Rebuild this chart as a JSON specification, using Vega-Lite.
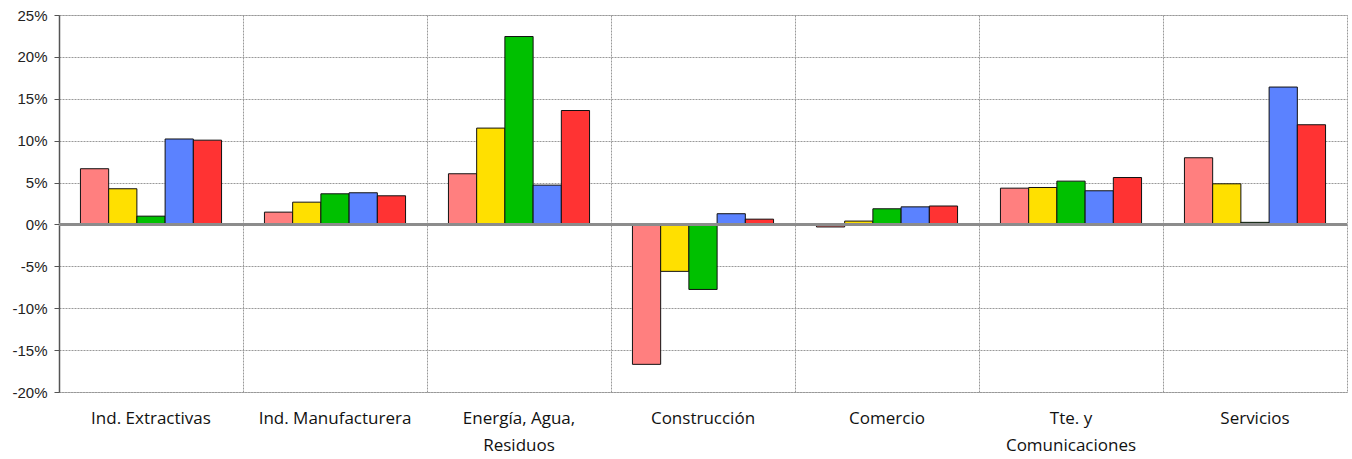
{
  "$schema": "https://vega.github.io/schema/vega-lite/v6.json",
  "width": 1288,
  "height": 377,
  "autosize": {"type": "none"},
  "padding": {"left": 59, "top": 15, "right": 5, "bottom": 67},
  "background": "white",
  "config": {
    "view": {"stroke": "#999999", "strokeDash": [2, 1], "strokeWidth": 1},
    "axis": {"gridColor": "#999999", "gridDash": [2, 1], "gridWidth": 1, "gridOpacity": 1}
  },
  "data": {
    "values": [
      {"sector": "Ind. Extractivas", "serie": "S1", "v": 0.0665},
      {"sector": "Ind. Extractivas", "serie": "S2", "v": 0.0426},
      {"sector": "Ind. Extractivas", "serie": "S3", "v": 0.0099},
      {"sector": "Ind. Extractivas", "serie": "S4", "v": 0.102},
      {"sector": "Ind. Extractivas", "serie": "S5", "v": 0.1006},
      {"sector": "Ind. Manufacturera", "serie": "S1", "v": 0.0147},
      {"sector": "Ind. Manufacturera", "serie": "S2", "v": 0.0266},
      {"sector": "Ind. Manufacturera", "serie": "S3", "v": 0.0366},
      {"sector": "Ind. Manufacturera", "serie": "S4", "v": 0.0378},
      {"sector": "Ind. Manufacturera", "serie": "S5", "v": 0.0342},
      {"sector": "Energía, Agua, Residuos", "serie": "S1", "v": 0.0605},
      {"sector": "Energía, Agua, Residuos", "serie": "S2", "v": 0.115},
      {"sector": "Energía, Agua, Residuos", "serie": "S3", "v": 0.2243},
      {"sector": "Energía, Agua, Residuos", "serie": "S4", "v": 0.0469},
      {"sector": "Energía, Agua, Residuos", "serie": "S5", "v": 0.136},
      {"sector": "Construcción", "serie": "S1", "v": -0.167},
      {"sector": "Construcción", "serie": "S2", "v": -0.056},
      {"sector": "Construcción", "serie": "S3", "v": -0.0776},
      {"sector": "Construcción", "serie": "S4", "v": 0.0128},
      {"sector": "Construcción", "serie": "S5", "v": 0.0063},
      {"sector": "Comercio", "serie": "S1", "v": -0.003},
      {"sector": "Comercio", "serie": "S2", "v": 0.004},
      {"sector": "Comercio", "serie": "S3", "v": 0.0187},
      {"sector": "Comercio", "serie": "S4", "v": 0.021},
      {"sector": "Comercio", "serie": "S5", "v": 0.022},
      {"sector": "Tte. y Comunicaciones", "serie": "S1", "v": 0.0433},
      {"sector": "Tte. y Comunicaciones", "serie": "S2", "v": 0.0441},
      {"sector": "Tte. y Comunicaciones", "serie": "S3", "v": 0.0517},
      {"sector": "Tte. y Comunicaciones", "serie": "S4", "v": 0.0402},
      {"sector": "Tte. y Comunicaciones", "serie": "S5", "v": 0.056},
      {"sector": "Servicios", "serie": "S1", "v": 0.0796},
      {"sector": "Servicios", "serie": "S2", "v": 0.0485},
      {"sector": "Servicios", "serie": "S3", "v": 0.0025},
      {"sector": "Servicios", "serie": "S4", "v": 0.164},
      {"sector": "Servicios", "serie": "S5", "v": 0.119}
    ]
  },
  "layer": [
    {
      "mark": {"type": "bar", "stroke": "#111111", "strokeWidth": 1},
      "encoding": {
        "x": {
          "field": "sector",
          "type": "nominal",
          "sort": null,
          "scale": {"paddingInner": 0, "paddingOuter": 0},
          "axis": {
            "title": null,
            "labelAngle": 0,
            "domain": false,
            "ticks": false,
            "grid": true,
            "bandPosition": 0,
            "labelFont": "Open Sans",
            "labelFontSize": 17,
            "labelColor": "#111111",
            "labelPadding": 18,
            "labelLineHeight": 27,
            "labelExpr": "datum.value == 'Energía, Agua, Residuos' ? ['Energía, Agua,', 'Residuos'] : datum.value == 'Tte. y Comunicaciones' ? ['Tte. y', 'Comunicaciones'] : datum.value"
          }
        },
        "xOffset": {"field": "serie", "type": "nominal", "scale": {"paddingInner": 0, "paddingOuter": 0.76}},
        "y": {
          "field": "v",
          "type": "quantitative",
          "scale": {"domain": [-0.2, 0.25], "nice": false, "zero": false},
          "axis": {
            "title": null,
            "values": [-0.2, -0.15, -0.1, -0.05, 0, 0.05, 0.1, 0.15, 0.2, 0.25],
            "labelExpr": "round(datum.value * 100) + '%'",
            "domainColor": "#555555",
            "domainWidth": 1.5,
            "tickColor": "#555555",
            "tickSize": 5,
            "labelFont": "Liberation Sans",
            "labelFontSize": 15,
            "labelColor": "#222222",
            "labelPadding": 7,
            "grid": true
          }
        },
        "color": {
          "field": "serie",
          "type": "nominal",
          "legend": null,
          "scale": {
            "domain": ["S1", "S2", "S3", "S4", "S5"],
            "range": ["#FF7F7F", "#FFE000", "#00C000", "#5B82FF", "#FF3333"]
          }
        }
      }
    },
    {
      "data": {"values": [{"z": 0}]},
      "mark": {"type": "rule", "color": "#8c8c8c", "strokeWidth": 3},
      "encoding": {"y": {"field": "z", "type": "quantitative"}}
    }
  ]
}
